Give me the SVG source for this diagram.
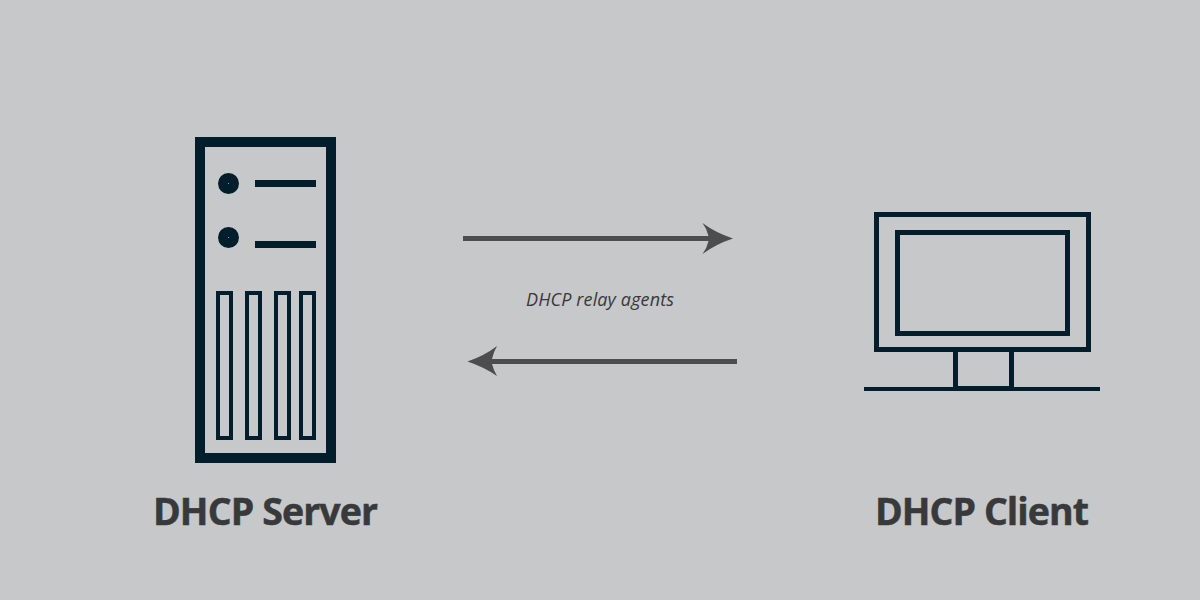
<svg xmlns="http://www.w3.org/2000/svg" width="1200" height="600" viewBox="0 0 1200 600">
<style>
.o{fill:none;stroke:#021e2d;stroke-miterlimit:10}
.f{fill:#021e2d}
.a{fill:#4d4d4f}
.t{font-family:"Open Sans","Noto Sans","Liberation Sans",sans-serif;fill:#38393b}
.h{font-size:37.5px;font-weight:700;stroke:#38393b;stroke-width:0.5px}
.i{font-size:18px;font-style:italic}
</style>
<rect width="1200" height="600" fill="#c7c8ca"/>
<g id="dhcp-server">
<rect class="o" x="200" y="142" width="131" height="316" stroke-width="10"/>
<circle class="f" cx="228.500" cy="183.500" r="10.500"/>
<circle class="f" cx="228.500" cy="237.500" r="10.500"/>
<circle cx="228.500" cy="183.500" r="0.500" fill="#c7c8ca"/>
<circle cx="228.500" cy="237.500" r="0.500" fill="#c7c8ca"/>
<rect class="f" x="255" y="180" width="61" height="7"/>
<rect class="f" x="255" y="241" width="61" height="7"/>
<rect class="o" x="218" y="293" width="13" height="145" stroke-width="4"/>
<rect class="o" x="247" y="293" width="13" height="145" stroke-width="4"/>
<rect class="o" x="276" y="293" width="13" height="145" stroke-width="4"/>
<rect class="o" x="301" y="293" width="13" height="145" stroke-width="4"/>
<text class="t h" x="153" y="524.500" textLength="225">DHCP Server</text>
</g>
<g id="dhcp-client">
<rect class="o" x="876.500" y="214.500" width="212" height="135" stroke-width="5"/>
<rect class="o" x="897.500" y="232.500" width="170" height="101" stroke-width="5"/>
<rect class="o" x="955.500" y="349.500" width="56" height="39" stroke-width="5"/>
<rect class="f" x="864" y="387" width="236" height="4"/>
<text class="t h" x="875" y="524.500" textLength="214">DHCP Client</text>
</g>
<g id="connectors">
<path class="a" d="M463 236H708.500Q707 229 702.500 223Q716 233 733 238.500Q716 244 702.500 254Q707 248 708.500 241H463Z"/>
<path class="a" d="M737 359H492Q493.500 352 497 346Q484 356 467.500 361.500Q484 367 497 376Q493.500 370 492 364H737Z"/>
</g>
<g id="relay-label">
<text class="t i" x="526" y="306" textLength="148">DHCP relay agents</text>
</g>
</svg>
